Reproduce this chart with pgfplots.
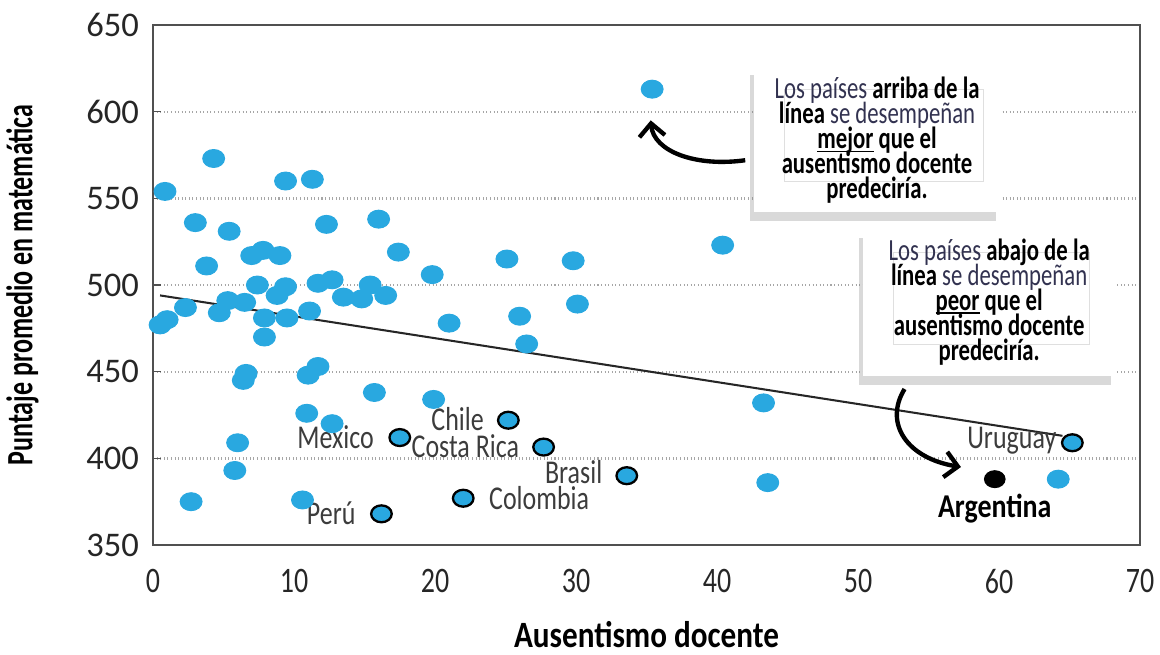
\documentclass[border=0pt]{standalone}
\usepackage{pgfplots}
\pgfplotsset{compat=1.18}
\usepackage{fontspec}
\setmainfont{Carlito}
\newfontfamily\cond[FakeStretch=0.78]{Carlito}
\newfontfamily\condb[FakeStretch=0.84]{Carlito}
\newfontfamily\condy[FakeStretch=0.70]{Carlito}
\newfontfamily\boxf[FakeStretch=0.74]{Carlito}
\usetikzlibrary{shadows,arrows.meta}
\definecolor{ptblue}{RGB}{41,168,224}
\definecolor{lbl}{RGB}{60,60,60}
\definecolor{txt}{RGB}{50,50,80}
\definecolor{frame}{RGB}{80,80,80}
\newcommand\ul[1]{\setbox0\hbox{#1}\rlap{\rule[-1.4pt]{\wd0}{0.6pt}}\box0\relax}
\begin{document}
\begin{tikzpicture}
\useasboundingbox (-59.77pt,-42.58pt) rectangle (393.3pt,212.87pt);
\begin{axis}[
  scale only axis,
  width=385.5pt, height=203.1pt,
  xmin=0, xmax=70, ymin=350, ymax=650,
  xtick={0,10,...,70}, ytick={350,400,...,650},
  clip=false,
  axis line style={draw=frame, line width=0.7pt},
  ymajorgrids, grid style={densely dotted, gray!70, line width=0.9pt},
  xtick style={draw=none},
  ytick style={draw=frame, line width=0.6pt},
  tick align=inside, ytick pos=left, major tick length=3pt,
  /pgf/number format/assume math mode=true,
  xticklabel style={font=\cond\fontsize{14}{14}\selectfont, text=black!85, yshift=-6pt},
  yticklabel style={font=\fontsize{13.5}{14}\selectfont, text=black!85, xshift=-2pt},
  xlabel={\condb\bfseries Ausentismo docente},
  ylabel={\condy\bfseries Puntaje promedio en matemática},
  xlabel style={font=\fontsize{14.5}{15}\selectfont, at={(axis description cs:0.5,-0.172)}, anchor=center},
  ylabel style={font=\fontsize{14.5}{15}\selectfont, at={(axis description cs:-0.1323,0.5)}, anchor=center},
]
% regular countries
\addplot[only marks, mark=*, mark size=3.5pt, mark options={xscale=1.22, fill=ptblue, draw=ptblue}] coordinates {
(0.85,554) (4.3,573) (9.4,560) (11.3,561) (3.0,536) (5.4,531) (12.3,535) (16.0,538)
(3.8,511) (7.0,517) (7.8,520) (9.0,517) (17.4,519) (19.8,506) (25.1,515) (29.8,514)
(40.4,523) (30.1,489) (26.0,482) (26.5,466) (21.0,478) (0.5,477) (1.0,480) (2.3,487)
(4.7,484) (5.3,491) (6.5,490) (7.4,500) (7.9,481) (7.9,470) (8.8,494) (9.4,499)
(9.5,481) (11.1,485) (11.7,501) (12.7,503) (13.5,493) (14.8,492) (15.4,500) (16.5,494)
(6.6,449) (6.4,445) (11.7,453) (11.0,448) (15.7,438) (19.9,434) (10.9,426) (12.7,420)
(6.0,409) (5.8,393) (2.7,375) (10.6,376) (35.4,613) (43.3,432) (43.6,386) (64.2,388)
};
% highlighted countries
\addplot[only marks, mark=*, mark size=3.3pt, mark options={xscale=1.22, fill=ptblue, draw=black, line width=0.9pt}] coordinates {
(17.5,412) (25.2,422) (27.7,406.5) (33.6,390) (22.0,377) (16.2,368) (65.2,409)
};
% Argentina
\addplot[only marks, mark=*, mark size=3.3pt, mark options={xscale=1.22, fill=black, draw=black}] coordinates {(59.7,388)};
% trend line
\addplot[black!85, line width=0.8pt] coordinates {(0.5,494) (64.5,413)};

\begin{scope}[font=\cond\fontsize{13}{13}\selectfont, text=lbl]
\node[anchor=east] at (axis cs:16.3,412.5) {México};
\node[anchor=east] at (axis cs:24.1,422.5) {Chile};
\node[anchor=east] at (axis cs:26.6,407) {Costa Rica};
\node[anchor=east] at (axis cs:32.5,392) {Brasil};
\node[anchor=west] at (axis cs:23.2,377) {Colombia};
\node[anchor=east] at (axis cs:15.0,368.5) {Perú};
\node[anchor=east] at (axis cs:64.7,410) {Uruguay};
\node[text=black] at (axis cs:59.7,371) {\condb\bfseries Argentina};
\end{scope}

% callout boxes
\node[fill=white, draw=white, drop shadow={shadow xshift=-1.5pt, shadow yshift=-4pt, opacity=0.3},
  minimum width=96pt, minimum height=57pt] at (axis cs:51.35,584.8) {};
\draw[gray!25, line width=0.3pt] (axis cs:44.8,613) rectangle (axis cs:58.9,560);
\node[align=center, font={\boxf\fontsize{12}{9.7}\selectfont\lineskiplimit=-20pt}, text=txt] at (axis cs:51.35,583.6)
 {Los países \textbf{\color{black}arriba de la}\\ \textbf{\color{black}línea} se desempeñan\\ \textbf{\color{black}\ul{mejor}\ que el}\\ \textbf{\color{black}ausentismo docente}\\ \textbf{\color{black}predeciría.}};

\node[fill=white, draw=white, drop shadow={shadow xshift=-1.5pt, shadow yshift=-4pt, opacity=0.3},
  minimum width=98.5pt, minimum height=57.5pt] at (axis cs:59.3,490.5) {};
\draw[gray!25, line width=0.3pt] (axis cs:52.5,519) rectangle (axis cs:66.4,466);
\node[align=center, font={\boxf\fontsize{12}{9.7}\selectfont\lineskiplimit=-20pt}, text=txt] at (axis cs:59.3,490.2)
 {Los países \textbf{\color{black}abajo de la}\\ \textbf{\color{black}línea} se desempeñan\\ \textbf{\color{black}\ul{peor}\ que el}\\ \textbf{\color{black}ausentismo docente}\\ \textbf{\color{black}predeciría.}};

% arrows
\draw[black, line width=1.7pt, -{Straight Barb[length=5pt, width=10pt, line width=1.7pt]}]
  (axis cs:42.0,572) .. controls (axis cs:38.5,568) and (axis cs:35.5,577) .. (axis cs:35.3,595);
\draw[black, line width=1.7pt, -{Straight Barb[length=5pt, width=10pt, line width=1.7pt]}]
  (axis cs:53.3,440) .. controls (axis cs:51.8,420) and (axis cs:53.5,400) .. (axis cs:57.3,395);
\end{axis}
\end{tikzpicture}
\end{document}
